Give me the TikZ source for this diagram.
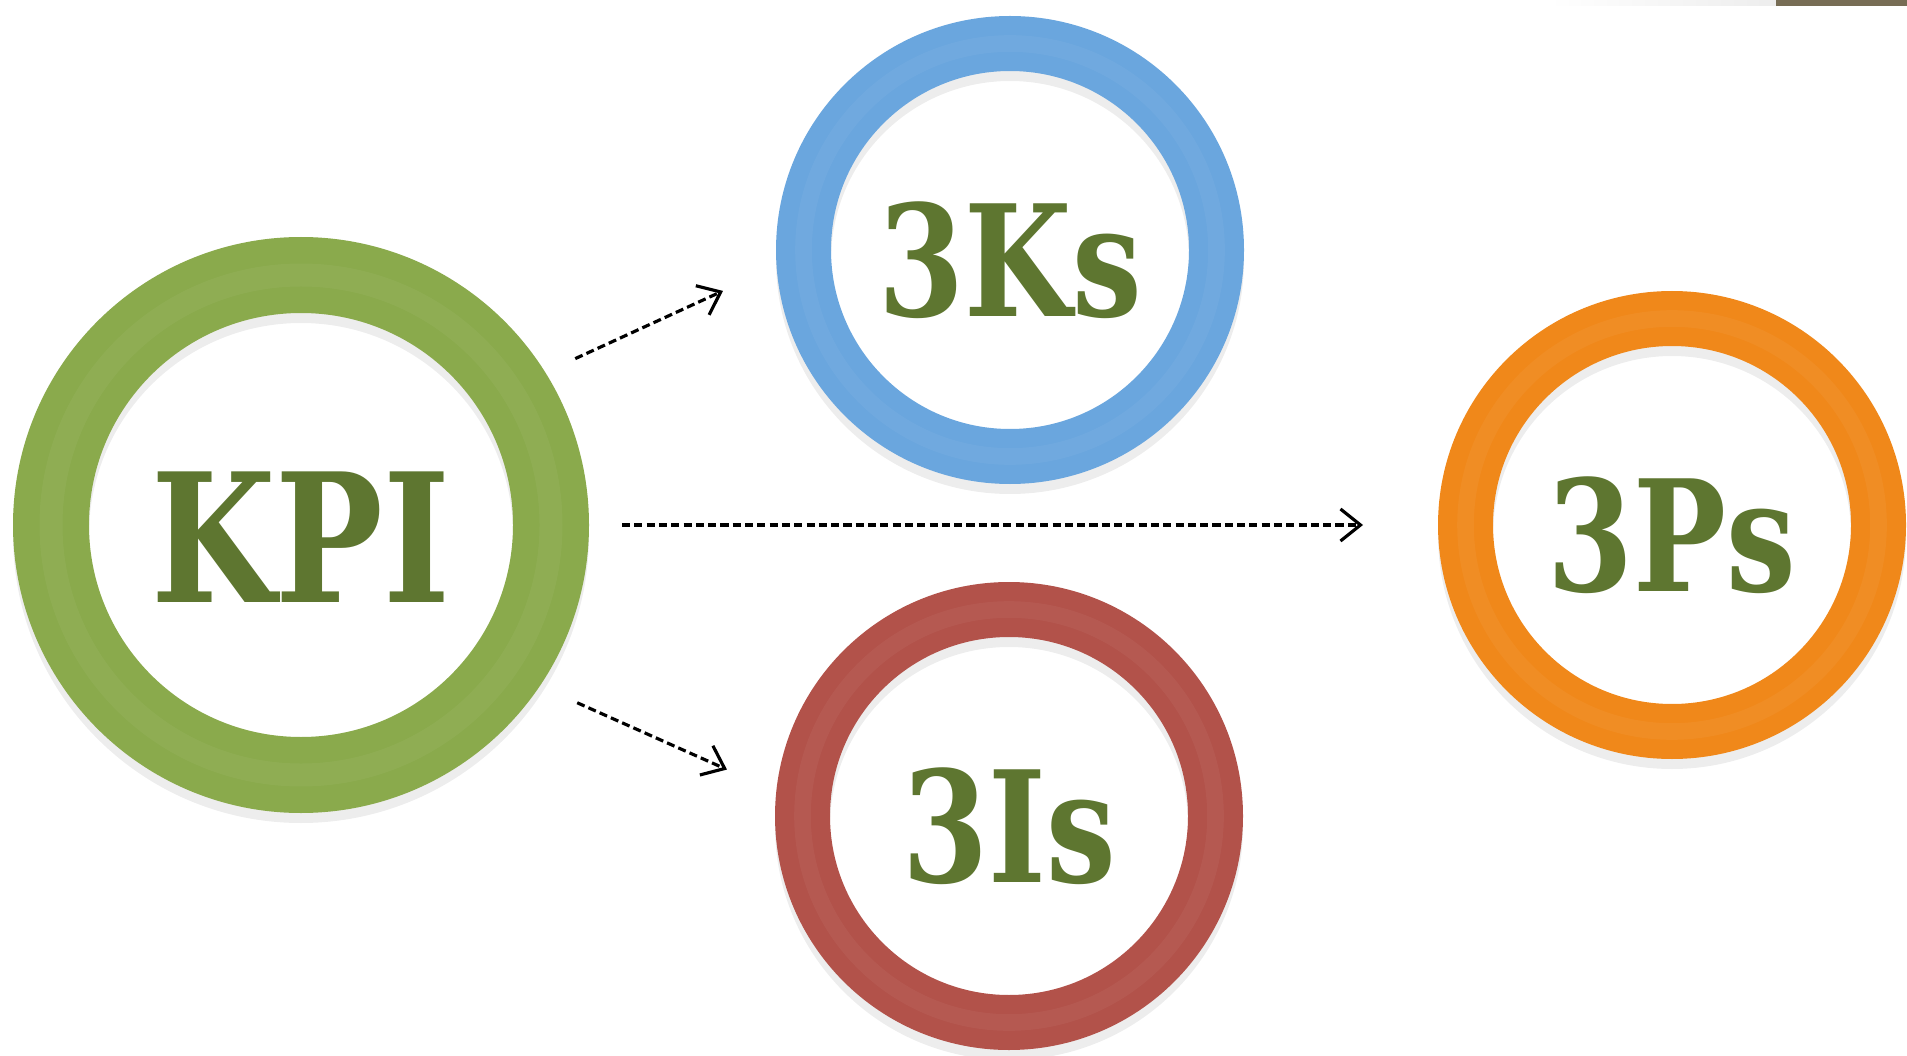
\documentclass[tikz,border=0pt]{standalone}
\usepackage{fontspec}
\newfontfamily\ringfont{DejaVu Serif}[FakeStretch=0.8]
\usepackage{xcolor}
\usepackage{tikz}
\usetikzlibrary{arrows.meta}

\definecolor{kpigreen}{RGB}{138,170,76}
\definecolor{ksblue}{RGB}{106,166,222}
\definecolor{isred}{RGB}{178,82,74}
\definecolor{psorange}{RGB}{240,136,26}
\definecolor{labelgreen}{RGB}{94,118,48}
\definecolor{barolive}{RGB}{119,109,85}

\newcommand{\kpifont}{\ringfont\bfseries\fontsize{51}{51}\selectfont}
\newcommand{\threefont}{\ringfont\bfseries\fontsize{44}{44}\selectfont}

\tikzset{
	ring/.style={circle, draw=#1, inner sep=0pt, text=labelgreen, text depth=0pt,
		preaction={draw=black, opacity=.07, transform canvas={yshift=-1mm}},
		postaction={draw=#1!80!white, opacity=.22, line width=.55\pgflinewidth}},
	bigring/.style={ring=#1, minimum size=50mm, line width=7.6mm, outer sep=3.8mm,
		font=\kpifont, text height=44pt},
	smallring/.style={ring=#1, minimum size=41.3mm, line width=5.5mm, outer sep=2.75mm,
		font=\threefont, text height=38pt},
	link/.style={line width=0.9pt, dash pattern=on 2.3pt off 1.2pt,
		-{Straight Barb[length=2mm,width=3.2mm]}}
}

\begin{document}
\begin{tikzpicture}[x=0.1mm, y=0.1mm]
		\fill[white] (0,0) rectangle (1907,1055);

		% bar at the top right
		\shade[left color=white, right color=black!7] (1549,1049) rectangle (1776,1055);
		\fill[barolive] (1776,1049) rectangle (1907,1055);

		\node[bigring=kpigreen] (kpi) at (301,530) {KPI};
		\node[smallring=ksblue] (ks) at (1010,805) {3Ks};
		\node[smallring=isred] (is) at (1009,239) {3Is};
		\node[smallring=psorange] (ps) at (1672,530) {3Ps};

		\draw[link, shorten <=3.3mm, shorten >=5.9mm] (kpi.32) -- (ks.184);
		\draw[link, shorten <=3.3mm, shorten >=7.5mm] (kpi.east) -- (ps.west);
		\draw[link, shorten <=4.1mm, shorten >=5.4mm] (kpi.326) -- (is.174);
	\end{tikzpicture}
\end{document}
